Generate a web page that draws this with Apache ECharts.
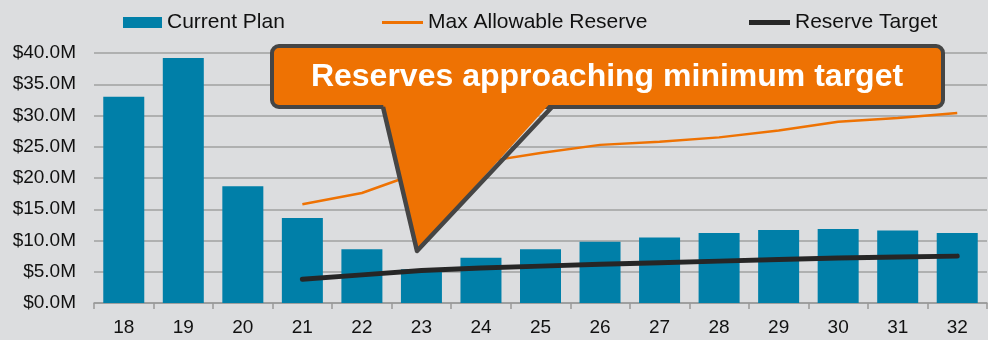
<!DOCTYPE html>
<html>
<head>
<meta charset="utf-8">
<script src="https://cdn.jsdelivr.net/npm/echarts@6/dist/echarts.min.js"></script>
<style>
  html, body { margin: 0; padding: 0; background: #dcdddf; }
  #chart { width: 988px; height: 340px; }
</style>
</head>
<body>
<div id="chart"></div>
<script>
// Fiscal years on the category axis
const years = ['18', '19', '20', '21', '22', '23', '24', '25', '26', '27', '28', '29', '30', '31', '32'];

// Reserve balances, $M
const currentPlan   = [33.0, 39.2, 18.7, 13.6, 8.6, 5.4, 7.25, 8.6, 9.8, 10.5, 11.2, 11.7, 11.85, 11.6, 11.2];
const maxAllowable  = [null, null, null, 15.8, 17.6, 21.0, 22.5, 24.0, 25.3, 25.8, 26.5, 27.6, 29.0, 29.6, 30.4];
const reserveTarget = [null, null, null, 3.8, 4.5, 5.2, 5.6, 5.9, 6.2, 6.45, 6.7, 6.95, 7.2, 7.35, 7.5];

// Value axis ticks, $M
const yMin = 0;
const yMax = 40;
const yStep = 5;

const seriesNames = ['Current Plan', 'Max Allowable Reserve', 'Reserve Target'];
const calloutText = 'Reserves approaching minimum target';

const FONT = "'Liberation Sans', Arial, sans-serif";
const BLUE = '#007fa8';
const ORANGE = '#ee7203';
const DARK = '#262626';
const BORDER = '#454545';

const chart = echarts.init(document.getElementById('chart'));

const legendText = { fontFamily: FONT, fontSize: 21, color: '#111' };

chart.setOption({
  backgroundColor: '#dcdddf',
  animation: false,
  textStyle: { fontFamily: FONT },
  grid: { left: 94, right: 1, top: 53, bottom: 37, containLabel: false },
  legend: [
    { data: [{ name: seriesNames[0], icon: 'rect' }], left: 123, top: 12,
      itemWidth: 39, itemHeight: 11, itemGap: 0, textStyle: legendText, padding: 0 },
    { data: [{ name: seriesNames[1], icon: 'rect' }], left: 382, top: 12,
      itemWidth: 41, itemHeight: 3, itemGap: 0, textStyle: legendText, padding: 0 },
    { data: [{ name: seriesNames[2], icon: 'rect' }], left: 749, top: 12,
      itemWidth: 41, itemHeight: 5, itemGap: 0, textStyle: legendText, padding: 0 }
  ],
  xAxis: {
    type: 'category',
    data: years,
    boundaryGap: true,
    axisLine: { lineStyle: { color: '#999', width: 1.5 } },
    axisTick: { show: true, length: 6, lineStyle: { color: '#999', width: 1.5 } },
    axisLabel: { fontFamily: FONT, fontSize: 19, color: '#111', margin: 15 }
  },
  yAxis: {
    type: 'value',
    min: yMin,
    max: yMax,
    interval: yStep,
    axisLine: { show: false },
    axisTick: { show: false },
    splitLine: { lineStyle: { color: '#a0a0a0', width: 1.5 } },
    axisLabel: {
      fontFamily: FONT, fontSize: 19, color: '#111', margin: 18,
      formatter: v => '$' + v.toFixed(1) + 'M'
    }
  },
  series: [
    {
      name: seriesNames[0],
      type: 'bar',
      data: currentPlan,
      barWidth: 41,
      itemStyle: { color: BLUE }
    },
    {
      name: seriesNames[1],
      type: 'line',
      data: maxAllowable,
      showSymbol: false,
      symbol: 'none',
      lineStyle: { color: ORANGE, width: 2.5 },
      itemStyle: { color: ORANGE }
    },
    {
      name: seriesNames[2],
      type: 'line',
      data: reserveTarget,
      showSymbol: false,
      symbol: 'none',
      lineStyle: { color: DARK, width: 5, cap: 'round' },
      itemStyle: { color: DARK }
    }
  ],
  graphic: [
    // callout box
    {
      type: 'rect', z: 100,
      shape: { x: 272, y: 46, width: 671, height: 61, r: 7 },
      style: { fill: ORANGE, stroke: BORDER, lineWidth: 4 }
    },
    // pointer fill, overlapping the box's lower border
    {
      type: 'polygon', z: 101,
      shape: { points: [[382, 100], [417, 251], [553, 100]] },
      style: { fill: ORANGE, stroke: null }
    },
    // pointer outline
    {
      type: 'polyline', z: 102,
      shape: { points: [[383, 107], [417, 251], [552, 107]] },
      style: { stroke: BORDER, lineWidth: 4.5, fill: null, lineJoin: 'round' }
    },
    {
      type: 'text', z: 103,
      x: 607, y: 77,
      style: {
        text: calloutText,
        fill: '#fff',
        font: "bold 32px 'Liberation Sans', Arial, sans-serif",
        textAlign: 'center',
        textVerticalAlign: 'middle'
      }
    }
  ]
});
</script>
</body>
</html>
